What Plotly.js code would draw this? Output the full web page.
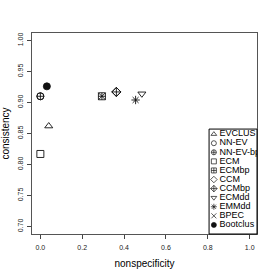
<!DOCTYPE html>
<html><head><meta charset="utf-8">
<script src="https://cdn.plot.ly/plotly-3.0.1.min.js"></script>
<style>html,body{margin:0;padding:0;background:#fff}#c{width:274px;height:274px}</style>
</head><body><div id="c"></div>
<script>
const methods = ['EVCLUS','NN-EV','NN-EV-bp','ECM','ECMbp','CCM','CCMbp','ECMdd','EMMdd','BPEC','Bootclus'];
const nonspecificity = [0.040, 0.000, 0.000, 0.000, 0.294, 0.363, 0.363, 0.485, 0.455, 0.294, 0.031];
const consistency   = [0.862, 0.910, 0.910, 0.817, 0.910, 0.917, 0.917, 0.914, 0.904, 0.910, 0.926];
const symbols = ['triangle-up-open','circle-open','circle-cross-open','square-open','square-cross-open','diamond-open','diamond-cross-open','triangle-down-open','asterisk-open','x-thin-open','circle'];
const xTicks = [0, 0.2, 0.4, 0.6, 0.8, 1.0];
const xTickText = ['0.0','0.2','0.4','0.6','0.8','1.0'];
const yTicks = [0.70, 0.75, 0.80, 0.85, 0.90, 0.95, 1.00];
const yTickText = ['0.70','0.75','0.80','0.85','0.90','0.95','1.00'];

const font = 'Liberation Sans, Arial, sans-serif';
const traces = methods.map((m, i) => ({
  type: 'scatter', mode: 'markers', name: m,
  x: [nonspecificity[i]], y: [consistency[i]],
  marker: {symbol: symbols[i], size: 7, color: '#111', line: {color: '#111', width: 0.9}},
  showlegend: false, cliponaxis: false
}));
// legend drawn as an inset axis: symbols, then labels
traces.push({
  type: 'scatter', mode: 'markers', xaxis: 'x2', yaxis: 'y2',
  x: methods.map(() => 0.1), y: methods.map((m, i) => i),
  marker: {symbol: symbols, size: 5, color: '#111', line: {color: '#111', width: 0.7}},
  showlegend: false, cliponaxis: true, hoverinfo: 'skip'
});
traces.push({
  type: 'scatter', mode: 'text', xaxis: 'x2', yaxis: 'y2',
  x: methods.map(() => 0.22), y: methods.map((m, i) => i),
  text: methods, textposition: 'middle right',
  textfont: {family: font, size: 9, color: '#000'},
  showlegend: false, cliponaxis: true, hoverinfo: 'skip'
});

const layout = {
  width: 274, height: 274,
  margin: {l: 32, r: 17, t: 33, b: 40},
  paper_bgcolor: '#fff', plot_bgcolor: '#fff',
  showlegend: false,
  font: {family: font, color: '#000'},
  xaxis: {
    range: [-0.04, 1.035], tickvals: xTicks, ticktext: xTickText,
    ticks: 'outside', ticklen: 4, tickcolor: '#444', tickwidth: 1,
    showline: true, mirror: true, linecolor: '#555', linewidth: 1,
    showgrid: false, zeroline: false, ticklabelstandoff: 3,
    tickfont: {family: font, size: 7, color: '#222'},
    title: {text: 'nonspecificity', font: {family: font, size: 10, color: '#000'}, standoff: 9}
  },
  yaxis: {
    range: [0.688, 1.012], tickvals: yTicks, ticktext: yTickText, tickangle: -90,
    ticks: 'outside', ticklen: 4, tickcolor: '#444', tickwidth: 1,
    showline: true, mirror: true, linecolor: '#555', linewidth: 1,
    showgrid: false, zeroline: false, ticklabelstandoff: 1,
    tickfont: {family: font, size: 7, color: '#222'},
    title: {text: 'consistency', font: {family: font, size: 10, color: '#000'}, standoff: 5}
  },
  xaxis2: {domain: [0.787, 1], range: [0, 1], anchor: 'y2', visible: false, fixedrange: true},
  yaxis2: {domain: [0, 0.522], range: [11.0, -0.556], anchor: 'x2', visible: false, fixedrange: true},
  shapes: [{type: 'rect', xref: 'paper', yref: 'paper', x0: 0.787, x1: 1, y0: 0, y1: 0.522,
            line: {color: '#000', width: 1}, fillcolor: 'rgba(0,0,0,0)'}]
};
Plotly.newPlot('c', traces, layout, {staticPlot: true, displayModeBar: false});
</script></body></html>
